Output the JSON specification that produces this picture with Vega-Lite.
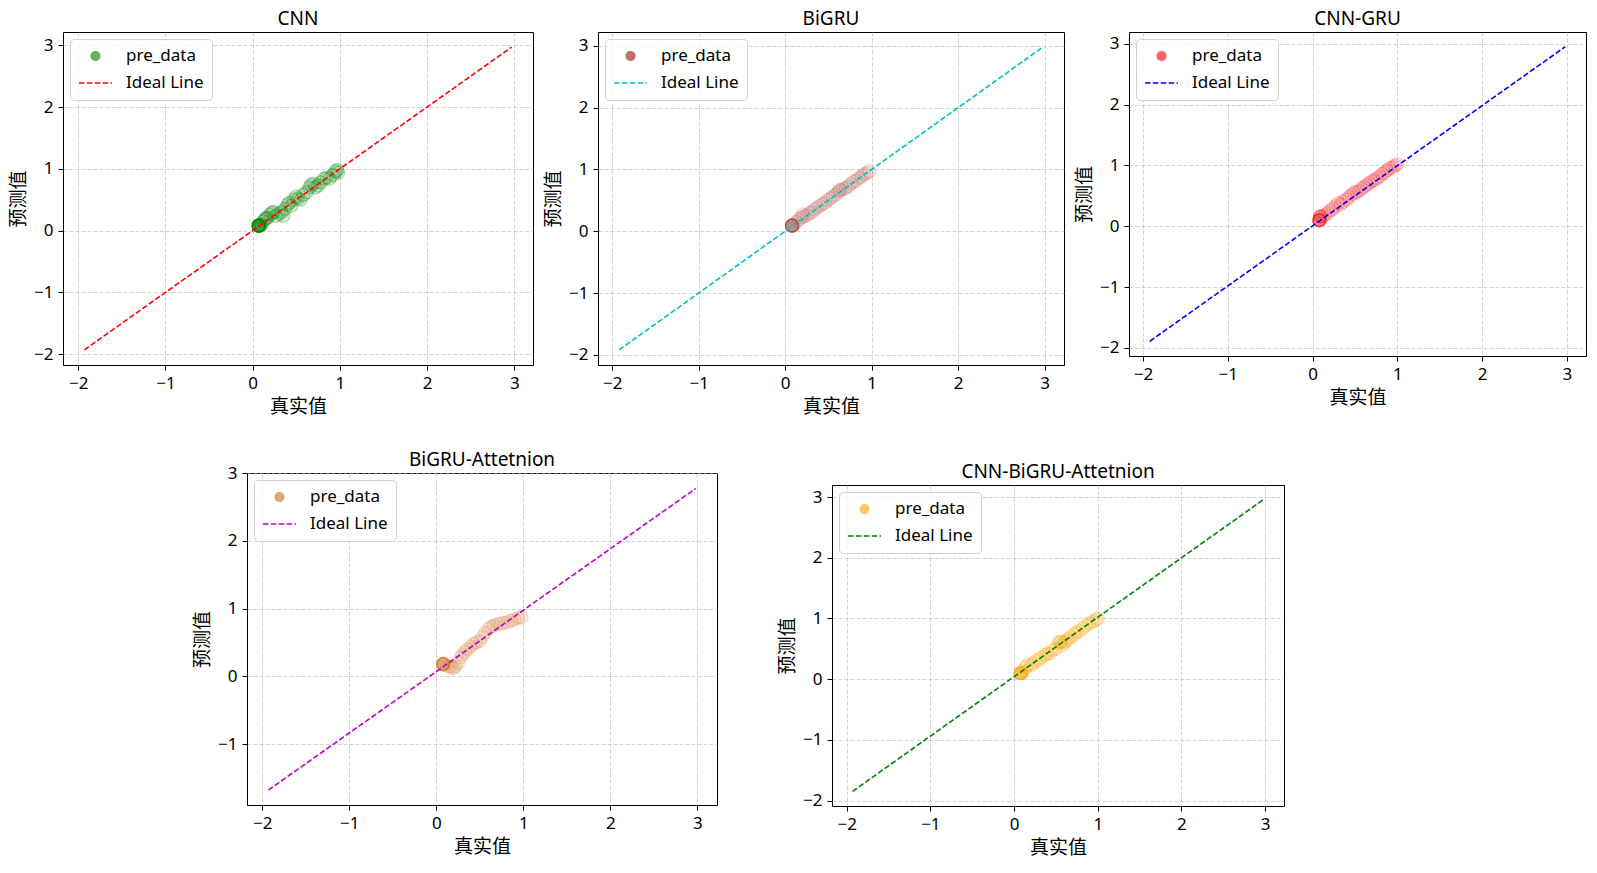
{
  "$schema": "https://vega.github.io/schema/vega-lite/v6.json",
  "background": "white",
  "padding": {"left": 9, "top": 9, "right": 5, "bottom": 5},
  "config": {
    "font": "Noto Sans, Noto Sans CJK SC",
    "view": {"stroke": null},
    "axis": {
      "labelFont": "Noto Sans, Noto Sans CJK SC",
      "labelFontSize": 17,
      "labelColor": "#000000",
      "titleFont": "Noto Sans CJK SC",
      "titleFontSize": 19,
      "titleFontWeight": "normal",
      "titleColor": "#000000",
      "tickColor": "#000000",
      "tickSize": 5,
      "domain": false,
      "grid": true,
      "gridColor": "#b0b0b0",
      "gridDash": [4, 2],
      "gridOpacity": 0.7,
      "gridWidth": 0.8,
      "labelFlush": false,
      "labelPadding": 5,
      "titlePadding": 6
    },
    "axisY": {"labelPadding": 5, "titlePadding": 5},
    "legend": {
      "orient": "top-left",
      "offset": 7,
      "padding": 8,
      "fillColor": "rgba(255,255,255,0.8)",
      "strokeColor": "#d0d0d0",
      "cornerRadius": 4,
      "symbolSize": 1089,
      "symbolStrokeWidth": 1.6,
      "clipHeight": 18,
      "rowPadding": 9,
      "labelOffset": 13,
      "labelFont": "Noto Sans, Noto Sans CJK SC",
      "labelFontSize": 17,
      "labelColor": "#000000"
    },
    "title": {
      "font": "Noto Sans, Noto Sans CJK SC",
      "fontSize": 19,
      "fontWeight": "normal",
      "color": "#000000",
      "offset": 3,
      "frame": "group",
      "anchor": "middle"
    }
  },
  "datasets": {
    "cnn": [
      {"actual": 0.07, "predicted": 0.08}, {"actual": 0.07, "predicted": 0.08}, {"actual": 0.07, "predicted": 0.08}, {"actual": 0.07, "predicted": 0.08},
      {"actual": 0.07, "predicted": 0.08}, {"actual": 0.07, "predicted": 0.08}, {"actual": 0.07, "predicted": 0.08}, {"actual": 0.07, "predicted": 0.08},
      {"actual": 0.09, "predicted": 0.10}, {"actual": 0.10, "predicted": 0.09}, {"actual": 0.12, "predicted": 0.15}, {"actual": 0.15, "predicted": 0.19},
      {"actual": 0.15, "predicted": 0.20}, {"actual": 0.17, "predicted": 0.21}, {"actual": 0.20, "predicted": 0.26}, {"actual": 0.22, "predicted": 0.29},
      {"actual": 0.24, "predicted": 0.30}, {"actual": 0.27, "predicted": 0.24}, {"actual": 0.30, "predicted": 0.27}, {"actual": 0.33, "predicted": 0.30},
      {"actual": 0.35, "predicted": 0.24}, {"actual": 0.37, "predicted": 0.35}, {"actual": 0.40, "predicted": 0.42}, {"actual": 0.42, "predicted": 0.45},
      {"actual": 0.44, "predicted": 0.40}, {"actual": 0.47, "predicted": 0.50}, {"actual": 0.50, "predicted": 0.55}, {"actual": 0.52, "predicted": 0.52},
      {"actual": 0.55, "predicted": 0.50}, {"actual": 0.58, "predicted": 0.58}, {"actual": 0.62, "predicted": 0.62}, {"actual": 0.65, "predicted": 0.70},
      {"actual": 0.67, "predicted": 0.74}, {"actual": 0.70, "predicted": 0.76}, {"actual": 0.72, "predicted": 0.70}, {"actual": 0.75, "predicted": 0.73},
      {"actual": 0.78, "predicted": 0.78}, {"actual": 0.82, "predicted": 0.84}, {"actual": 0.85, "predicted": 0.86}, {"actual": 0.88, "predicted": 0.84},
      {"actual": 0.92, "predicted": 0.90}, {"actual": 0.95, "predicted": 0.96}, {"actual": 0.97, "predicted": 0.98}, {"actual": 0.98, "predicted": 0.94}
    ],
    "cnn_line": [{"actual": -1.93, "predicted": -1.93}, {"actual": 2.97, "predicted": 2.97}],
    "bigru": [
      {"actual": 0.08, "predicted": 0.09}, {"actual": 0.08, "predicted": 0.09}, {"actual": 0.08, "predicted": 0.09}, {"actual": 0.08, "predicted": 0.09},
      {"actual": 0.08, "predicted": 0.09}, {"actual": 0.08, "predicted": 0.09}, {"actual": 0.08, "predicted": 0.09}, {"actual": 0.08, "predicted": 0.09},
      {"actual": 0.10, "predicted": 0.11}, {"actual": 0.13, "predicted": 0.15}, {"actual": 0.16, "predicted": 0.19}, {"actual": 0.19, "predicted": 0.22},
      {"actual": 0.20, "predicted": 0.27}, {"actual": 0.22, "predicted": 0.24}, {"actual": 0.25, "predicted": 0.26}, {"actual": 0.28, "predicted": 0.29},
      {"actual": 0.31, "predicted": 0.31}, {"actual": 0.34, "predicted": 0.35}, {"actual": 0.37, "predicted": 0.38}, {"actual": 0.40, "predicted": 0.41},
      {"actual": 0.43, "predicted": 0.44}, {"actual": 0.46, "predicted": 0.46}, {"actual": 0.49, "predicted": 0.50}, {"actual": 0.52, "predicted": 0.53},
      {"actual": 0.55, "predicted": 0.56}, {"actual": 0.58, "predicted": 0.59}, {"actual": 0.61, "predicted": 0.63}, {"actual": 0.63, "predicted": 0.67},
      {"actual": 0.64, "predicted": 0.66}, {"actual": 0.67, "predicted": 0.68}, {"actual": 0.70, "predicted": 0.70}, {"actual": 0.73, "predicted": 0.73},
      {"actual": 0.76, "predicted": 0.77}, {"actual": 0.79, "predicted": 0.80}, {"actual": 0.82, "predicted": 0.82}, {"actual": 0.85, "predicted": 0.86},
      {"actual": 0.88, "predicted": 0.88}, {"actual": 0.91, "predicted": 0.92}, {"actual": 0.94, "predicted": 0.94}, {"actual": 0.97, "predicted": 0.97}
    ],
    "bigru_line": [{"actual": -1.92, "predicted": -1.92}, {"actual": 2.98, "predicted": 2.98}],
    "cnngru": [
      {"actual": 0.08, "predicted": 0.10}, {"actual": 0.08, "predicted": 0.10}, {"actual": 0.08, "predicted": 0.10}, {"actual": 0.08, "predicted": 0.10},
      {"actual": 0.08, "predicted": 0.10}, {"actual": 0.08, "predicted": 0.10}, {"actual": 0.09, "predicted": 0.16}, {"actual": 0.09, "predicted": 0.16},
      {"actual": 0.09, "predicted": 0.16}, {"actual": 0.12, "predicted": 0.16}, {"actual": 0.15, "predicted": 0.19}, {"actual": 0.18, "predicted": 0.22},
      {"actual": 0.21, "predicted": 0.26}, {"actual": 0.24, "predicted": 0.29}, {"actual": 0.27, "predicted": 0.33}, {"actual": 0.30, "predicted": 0.38},
      {"actual": 0.33, "predicted": 0.36}, {"actual": 0.36, "predicted": 0.40}, {"actual": 0.40, "predicted": 0.44}, {"actual": 0.43, "predicted": 0.48},
      {"actual": 0.46, "predicted": 0.52}, {"actual": 0.49, "predicted": 0.55}, {"actual": 0.52, "predicted": 0.56}, {"actual": 0.55, "predicted": 0.58},
      {"actual": 0.58, "predicted": 0.62}, {"actual": 0.61, "predicted": 0.65}, {"actual": 0.64, "predicted": 0.68}, {"actual": 0.67, "predicted": 0.71},
      {"actual": 0.70, "predicted": 0.74}, {"actual": 0.73, "predicted": 0.76}, {"actual": 0.76, "predicted": 0.79}, {"actual": 0.79, "predicted": 0.82},
      {"actual": 0.82, "predicted": 0.86}, {"actual": 0.85, "predicted": 0.88}, {"actual": 0.88, "predicted": 0.92}, {"actual": 0.91, "predicted": 0.95},
      {"actual": 0.94, "predicted": 0.97}, {"actual": 0.97, "predicted": 1.00}, {"actual": 1.00, "predicted": 1.02}
    ],
    "cnngru_line": [{"actual": -1.92, "predicted": -1.89}, {"actual": 2.98, "predicted": 2.95}],
    "bigruatt": [
      {"actual": 0.08, "predicted": 0.18}, {"actual": 0.08, "predicted": 0.18}, {"actual": 0.08, "predicted": 0.18}, {"actual": 0.08, "predicted": 0.18},
      {"actual": 0.08, "predicted": 0.18}, {"actual": 0.08, "predicted": 0.18}, {"actual": 0.08, "predicted": 0.18}, {"actual": 0.12, "predicted": 0.16},
      {"actual": 0.15, "predicted": 0.14}, {"actual": 0.18, "predicted": 0.13}, {"actual": 0.20, "predicted": 0.12}, {"actual": 0.22, "predicted": 0.15},
      {"actual": 0.25, "predicted": 0.20}, {"actual": 0.28, "predicted": 0.28}, {"actual": 0.30, "predicted": 0.32}, {"actual": 0.33, "predicted": 0.36},
      {"actual": 0.36, "predicted": 0.40}, {"actual": 0.40, "predicted": 0.44}, {"actual": 0.43, "predicted": 0.48}, {"actual": 0.46, "predicted": 0.50},
      {"actual": 0.50, "predicted": 0.52}, {"actual": 0.53, "predicted": 0.58}, {"actual": 0.56, "predicted": 0.64}, {"actual": 0.60, "predicted": 0.70},
      {"actual": 0.63, "predicted": 0.73}, {"actual": 0.66, "predicted": 0.75}, {"actual": 0.70, "predicted": 0.77}, {"actual": 0.74, "predicted": 0.78},
      {"actual": 0.78, "predicted": 0.79}, {"actual": 0.82, "predicted": 0.80}, {"actual": 0.86, "predicted": 0.82}, {"actual": 0.90, "predicted": 0.84},
      {"actual": 0.94, "predicted": 0.86}, {"actual": 0.98, "predicted": 0.87}
    ],
    "bigruatt_line": [{"actual": -1.93, "predicted": -1.68}, {"actual": 2.98, "predicted": 2.77}],
    "cnnbigruatt": [
      {"actual": 0.08, "predicted": 0.10}, {"actual": 0.08, "predicted": 0.10}, {"actual": 0.08, "predicted": 0.10}, {"actual": 0.08, "predicted": 0.10},
      {"actual": 0.08, "predicted": 0.10}, {"actual": 0.08, "predicted": 0.10}, {"actual": 0.08, "predicted": 0.10}, {"actual": 0.11, "predicted": 0.13},
      {"actual": 0.14, "predicted": 0.20}, {"actual": 0.16, "predicted": 0.24}, {"actual": 0.20, "predicted": 0.22}, {"actual": 0.23, "predicted": 0.26},
      {"actual": 0.26, "predicted": 0.30}, {"actual": 0.30, "predicted": 0.33}, {"actual": 0.33, "predicted": 0.36}, {"actual": 0.37, "predicted": 0.40},
      {"actual": 0.40, "predicted": 0.42}, {"actual": 0.43, "predicted": 0.42}, {"actual": 0.46, "predicted": 0.48}, {"actual": 0.50, "predicted": 0.50},
      {"actual": 0.53, "predicted": 0.60}, {"actual": 0.55, "predicted": 0.62}, {"actual": 0.56, "predicted": 0.61}, {"actual": 0.57, "predicted": 0.55},
      {"actual": 0.60, "predicted": 0.60}, {"actual": 0.62, "predicted": 0.63}, {"actual": 0.65, "predicted": 0.66}, {"actual": 0.68, "predicted": 0.70},
      {"actual": 0.72, "predicted": 0.74}, {"actual": 0.75, "predicted": 0.77}, {"actual": 0.78, "predicted": 0.80}, {"actual": 0.82, "predicted": 0.84},
      {"actual": 0.86, "predicted": 0.88}, {"actual": 0.90, "predicted": 0.92}, {"actual": 0.94, "predicted": 0.95}, {"actual": 0.98, "predicted": 0.98},
      {"actual": 1.00, "predicted": 1.00}
    ],
    "cnnbigruatt_line": [{"actual": -1.93, "predicted": -1.85}, {"actual": 2.98, "predicted": 2.96}]
  },
  "bounds": "full",
  "spacing": 33,
  "resolve": {"scale": {"color": "independent"}, "legend": {"color": "independent"}},
  "vconcat": [
    {
      "bounds": "flush",
      "spacing": 65,
      "resolve": {"scale": {"color": "independent"}, "legend": {"color": "independent"}},
      "hconcat": [
        {
          "title": "CNN",
          "width": 470,
          "height": 333,
          "view": {"stroke": "#000000", "strokeWidth": 1},
          "encoding": {
            "x": {"field": "actual", "type": "quantitative", "scale": {"domain": [-2.175, 3.215], "nice": false, "zero": false}, "axis": {"title": "真实值", "values": [-2, -1, 0, 1, 2, 3]}},
            "y": {"field": "predicted", "type": "quantitative", "scale": {"domain": [-2.175, 3.215], "nice": false, "zero": false}, "axis": {"title": "预测值", "values": [-2, -1, 0, 1, 2, 3]}}
          },
          "layer": [
            {
              "data": {"name": "cnn"},
              "mark": {"type": "point", "filled": true, "size": 170, "opacity": 1, "fillOpacity": 0.13, "stroke": "#008000", "strokeOpacity": 0.28, "strokeWidth": 1.4},
              "encoding": {
                "color": {
                  "datum": "pre_data",
                  "scale": {"domain": ["pre_data", "Ideal Line"], "range": ["#008000", "#ff0000"]},
                  "legend": {
                    "title": null,
                    "symbolType": {"expr": "datum.value === 'pre_data' ? 'M -0.26,0 A 0.26,0.26 0 1,1 0.26,0 A 0.26,0.26 0 1,1 -0.26,0 Z' : 'stroke'"},
                    "symbolOpacity": {"expr": "datum.value === 'pre_data' ? 0.6 : 1"},
                    "symbolDash": {"expr": "datum.value === 'pre_data' ? [1, 0] : [5.5, 2.4]"}
                  }
                }
              }
            },
            {
              "data": {"name": "cnn_line"},
              "mark": {"type": "line", "strokeDash": [5.5, 2.4], "strokeWidth": 1.6},
              "encoding": {"color": {"datum": "Ideal Line"}}
            }
          ]
        },
        {
          "title": "BiGRU",
          "width": 466,
          "height": 333,
          "view": {"stroke": "#000000", "strokeWidth": 1},
          "encoding": {
            "x": {"field": "actual", "type": "quantitative", "scale": {"domain": [-2.165, 3.225], "nice": false, "zero": false}, "axis": {"title": "真实值", "values": [-2, -1, 0, 1, 2, 3]}},
            "y": {"field": "predicted", "type": "quantitative", "scale": {"domain": [-2.165, 3.225], "nice": false, "zero": false}, "axis": {"title": "预测值", "values": [-2, -1, 0, 1, 2, 3]}}
          },
          "layer": [
            {
              "data": {"name": "bigru"},
              "mark": {"type": "point", "filled": true, "size": 170, "opacity": 1, "fillOpacity": 0.08, "stroke": "#a5352a", "strokeOpacity": 0.16, "strokeWidth": 1.4},
              "encoding": {
                "color": {
                  "datum": "pre_data",
                  "scale": {"domain": ["pre_data", "Ideal Line"], "range": ["#a5352a", "#00bfbf"]},
                  "legend": {
                    "title": null,
                    "symbolType": {"expr": "datum.value === 'pre_data' ? 'M -0.26,0 A 0.26,0.26 0 1,1 0.26,0 A 0.26,0.26 0 1,1 -0.26,0 Z' : 'stroke'"},
                    "symbolOpacity": {"expr": "datum.value === 'pre_data' ? 0.7 : 1"},
                    "symbolDash": {"expr": "datum.value === 'pre_data' ? [1, 0] : [5.5, 2.4]"}
                  }
                }
              }
            },
            {
              "data": {"name": "bigru_line"},
              "mark": {"type": "line", "strokeDash": [5.5, 2.4], "strokeWidth": 1.6},
              "encoding": {"color": {"datum": "Ideal Line"}}
            }
          ]
        },
        {
          "title": "CNN-GRU",
          "width": 457,
          "height": 324,
          "view": {"stroke": "#000000", "strokeWidth": 1},
          "encoding": {
            "x": {"field": "actual", "type": "quantitative", "scale": {"domain": [-2.165, 3.225], "nice": false, "zero": false}, "axis": {"title": "真实值", "values": [-2, -1, 0, 1, 2, 3]}},
            "y": {"field": "predicted", "type": "quantitative", "scale": {"domain": [-2.132, 3.192], "nice": false, "zero": false}, "axis": {"title": "预测值", "values": [-2, -1, 0, 1, 2, 3]}}
          },
          "layer": [
            {
              "data": {"name": "cnngru"},
              "mark": {"type": "point", "filled": true, "size": 170, "opacity": 1, "fillOpacity": 0.09, "stroke": "#ff0000", "strokeOpacity": 0.18, "strokeWidth": 1.4},
              "encoding": {
                "color": {
                  "datum": "pre_data",
                  "scale": {"domain": ["pre_data", "Ideal Line"], "range": ["#ff0000", "#0000ff"]},
                  "legend": {
                    "title": null,
                    "symbolType": {"expr": "datum.value === 'pre_data' ? 'M -0.26,0 A 0.26,0.26 0 1,1 0.26,0 A 0.26,0.26 0 1,1 -0.26,0 Z' : 'stroke'"},
                    "symbolOpacity": {"expr": "datum.value === 'pre_data' ? 0.6 : 1"},
                    "symbolDash": {"expr": "datum.value === 'pre_data' ? [1, 0] : [5.5, 2.4]"}
                  }
                }
              }
            },
            {
              "data": {"name": "cnngru_line"},
              "mark": {"type": "line", "strokeDash": [5.5, 2.4], "strokeWidth": 1.6},
              "encoding": {"color": {"datum": "Ideal Line"}}
            }
          ]
        }
      ]
    },
    {
      "bounds": "flush",
      "spacing": 115,
      "resolve": {"scale": {"color": "independent"}, "legend": {"color": "independent"}},
      "hconcat": [
        {"width": 69, "height": 10, "data": {"values": []}, "mark": {"type": "point", "opacity": 0}, "encoding": {}},
        {
          "title": {"text": "BiGRU-Attetnion", "offset": -6},
          "width": 470,
          "height": 332,
          "view": {"stroke": "#000000", "strokeWidth": 1},
          "encoding": {
            "x": {"field": "actual", "type": "quantitative", "scale": {"domain": [-2.175, 3.225], "nice": false, "zero": false}, "axis": {"title": "真实值", "values": [-2, -1, 0, 1, 2, 3]}},
            "y": {"field": "predicted", "type": "quantitative", "scale": {"domain": [-1.9, 3.0], "nice": false, "zero": false}, "axis": {"title": "预测值", "values": [-1, 0, 1, 2, 3]}}
          },
          "layer": [
            {
              "data": {"name": "bigruatt"},
              "mark": {"type": "point", "filled": true, "size": 170, "opacity": 1, "fillOpacity": 0.11, "stroke": "#d2691e", "strokeOpacity": 0.17, "strokeWidth": 1.4},
              "encoding": {
                "color": {
                  "datum": "pre_data",
                  "scale": {"domain": ["pre_data", "Ideal Line"], "range": ["#d2691e", "#bf00bf"]},
                  "legend": {
                    "title": null,
                    "symbolType": {"expr": "datum.value === 'pre_data' ? 'M -0.26,0 A 0.26,0.26 0 1,1 0.26,0 A 0.26,0.26 0 1,1 -0.26,0 Z' : 'stroke'"},
                    "symbolOpacity": {"expr": "datum.value === 'pre_data' ? 0.6 : 1"},
                    "symbolDash": {"expr": "datum.value === 'pre_data' ? [1, 0] : [5.5, 2.4]"}
                  }
                }
              }
            },
            {
              "data": {"name": "bigruatt_line"},
              "mark": {"type": "line", "strokeDash": [5.5, 2.4], "strokeWidth": 1.6},
              "encoding": {"color": {"datum": "Ideal Line"}}
            }
          ]
        },
        {
          "bounds": "flush",
          "spacing": 0,
          "resolve": {"scale": {"color": "independent"}, "legend": {"color": "independent"}},
          "vconcat": [
            {"width": 452, "height": 12, "data": {"values": []}, "mark": {"type": "point", "opacity": 0}, "encoding": {}},
            {
              "title": "CNN-BiGRU-Attetnion",
              "width": 452,
              "height": 321,
              "view": {"stroke": "#000000", "strokeWidth": 1},
              "encoding": {
                "x": {"field": "actual", "type": "quantitative", "scale": {"domain": [-2.175, 3.225], "nice": false, "zero": false}, "axis": {"title": "真实值", "values": [-2, -1, 0, 1, 2, 3]}},
                "y": {"field": "predicted", "type": "quantitative", "scale": {"domain": [-2.09, 3.2], "nice": false, "zero": false}, "axis": {"title": "预测值", "values": [-2, -1, 0, 1, 2, 3]}}
              },
              "layer": [
                {
                  "data": {"name": "cnnbigruatt"},
                  "mark": {"type": "point", "filled": true, "size": 170, "opacity": 1, "fillOpacity": 0.12, "stroke": "#ffa500", "strokeOpacity": 0.25, "strokeWidth": 1.4},
                  "encoding": {
                    "color": {
                      "datum": "pre_data",
                      "scale": {"domain": ["pre_data", "Ideal Line"], "range": ["#ffa500", "#008000"]},
                      "legend": {
                        "title": null,
                        "symbolType": {"expr": "datum.value === 'pre_data' ? 'M -0.26,0 A 0.26,0.26 0 1,1 0.26,0 A 0.26,0.26 0 1,1 -0.26,0 Z' : 'stroke'"},
                        "symbolOpacity": {"expr": "datum.value === 'pre_data' ? 0.6 : 1"},
                        "symbolDash": {"expr": "datum.value === 'pre_data' ? [1, 0] : [5.5, 2.4]"}
                      }
                    }
                  }
                },
                {
                  "data": {"name": "cnnbigruatt_line"},
                  "mark": {"type": "line", "strokeDash": [5.5, 2.4], "strokeWidth": 1.6},
                  "encoding": {"color": {"datum": "Ideal Line"}}
                }
              ]
            }
          ]
        }
      ]
    }
  ]
}
